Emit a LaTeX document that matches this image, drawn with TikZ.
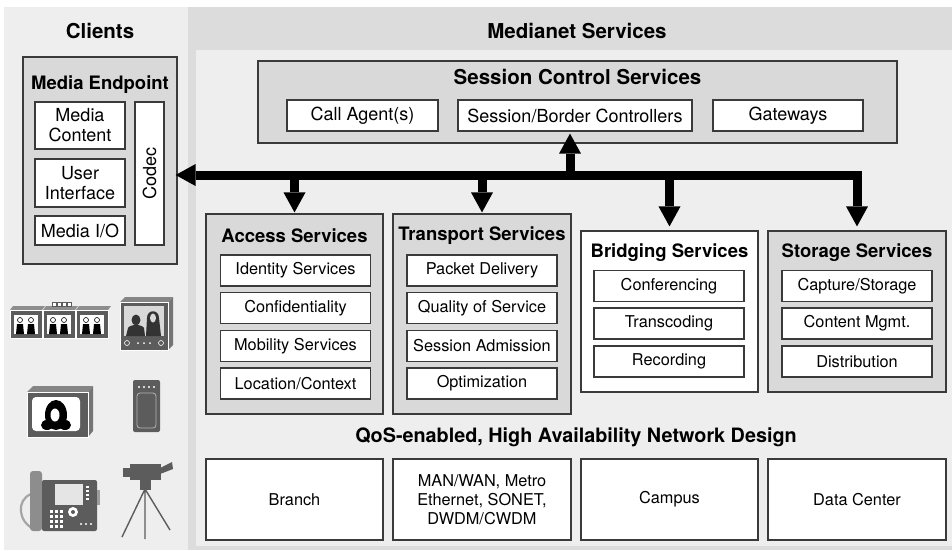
\documentclass[tikz,border=0pt]{standalone}
\usepackage{fontspec}
\setmainfont{TeX Gyre Heros}
\usetikzlibrary{positioning, arrows.meta}

\definecolor{panel}{HTML}{EEEEEE}
\definecolor{band}{HTML}{DCDCDC}
\definecolor{boxgray}{HTML}{D9D9D9}
\definecolor{edge}{HTML}{3A3A3A}
\definecolor{icon}{HTML}{5C5C5C}

\tikzset{
  head/.style={font=\fontsize{20.5}{24}\selectfont\bfseries},
  grouptitle/.style={font=\fontsize{18.5}{22}\selectfont\bfseries},
  group/.style={draw=edge, line width=1.2pt, fill=boxgray, inner sep=0pt},
  item/.style={draw=edge, line width=1.2pt, fill=white, minimum width=150pt, minimum height=31pt, inner sep=0pt, font=\fontsize{16.3}{19}\selectfont},
  client/.style={draw=edge, line width=1.2pt, fill=white, inner sep=0pt, align=center, font=\fontsize{18}{20}\selectfont},
  net/.style={draw=edge, line width=1.2pt, fill=white, inner sep=0pt, align=center, minimum height=81pt, font=\fontsize{16.3}{19}\selectfont},
  bus/.style={line width=9pt, -{Triangle[length=20pt,width=22pt,line width=0pt]}},
}

\begin{document}
\begin{tikzpicture}[x=1pt, y=-1pt]
  \useasboundingbox (0,0) rectangle (952,550);

  % panels
  \fill[panel] (4,7) rectangle (188,550);
  \fill[band] (188,7) rectangle (952,550);
  \fill[panel] (196,50) rectangle (952,546);

  \node[head] (clients) at (100,31) {Clients};
  \node[head] (medianet) at (577,31) {Medianet Services};

  % media endpoint
  \node[group, minimum width=154pt, minimum height=207pt] (ep) at (100,160.5) {};
  \node[grouptitle] (ept) at (100,85) {Media Endpoint};
  \node[client, minimum width=90pt, minimum height=47pt] (content) at (80,125.5) {Media\\Content};
  \node[client, minimum width=90pt, minimum height=48pt] (ui) at (80,183) {User\\Interface};
  \node[client, minimum width=90pt, minimum height=29pt] (mio) at (80,230.5) {Media I/O};
  \node[client, rotate=90, minimum width=143pt, minimum height=29pt] (codec) at (149.5,173.5) {Codec};

  % session control
  \node[group, minimum width=639pt, minimum height=82pt] (ctrl) at (577.5,102) {};
  \node[head] (ctrlt) at (577.5,77) {Session Control Services};
  \node[client, minimum width=151pt, minimum height=31pt] (agent) at (362.5,115.5) {Call Agent(s)};
  \node[client, minimum width=234pt, minimum height=31pt] (sbc) at (575,115.5) {Session/Border Controllers};
  \node[client, minimum width=150pt, minimum height=31pt] (gw) at (788,115.5) {Gateways};

  % access
  \node[group, minimum width=177pt, minimum height=200pt] (access) at (294.5,314) {};
  \node[grouptitle] (accesst) at (294.5,236) {Access Services};
  \node[item] (ident) at (295.5,270.5) {Identity Services};
  \node[item] (conf) at (295.5,308) {Confidentiality};
  \node[item] (mob) at (295.5,346) {Mobility Services};
  \node[item] (loc) at (295.5,383.5) {Location/Context};

  % transport
  \node[group, minimum width=178pt, minimum height=200pt] (transport) at (482,314) {};
  \node[grouptitle] (transportt) at (482,236) {Transport Services};
  \node[item] (packet) at (482,270.5) {Packet Delivery};
  \node[item] (qos) at (482,308) {Quality of Service};
  \node[item] (cac) at (482,346) {Session Admission};
  \node[item] (opt) at (482,383.5) {Optimization};

  % bridging
  \node[group, fill=white, minimum width=177pt, minimum height=161pt] (bridging) at (669.5,311.5) {};
  \node[grouptitle] (bridgingt) at (669.5,253) {Bridging Services};
  \node[item] (confer) at (669,286) {Conferencing};
  \node[item] (transc) at (669,323.5) {Transcoding};
  \node[item] (rec) at (669,361.5) {Recording};

  % storage
  \node[group, minimum width=178pt, minimum height=161pt] (storage) at (857,311.5) {};
  \node[grouptitle] (storaget) at (857,253) {Storage Services};
  \node[item] (capture) at (857,286) {Capture/Storage};
  \node[item] (mgmt) at (857,323.5) {Content Mgmt.};
  \node[item] (dist) at (857,361.5) {Distribution};

  % network design
  \node[font=\fontsize{19.8}{23}\selectfont\bfseries] (design) at (576,437) {QoS-enabled, High Availability Network Design};
  \node[net, minimum width=177pt] (branch) at (294.5,499.5) {Branch};
  \node[net, minimum width=178pt] (wan) at (482,499.5) {MAN/WAN, Metro\\Ethernet, SONET,\\DWDM/CWDM};
  \node[net, minimum width=177pt] (campus) at (669.5,499.5) {Campus};
  \node[net, minimum width=178pt] (dc) at (857,499.5) {Data Center};

  % service bus
  \coordinate (hub) at (570,175);
  \draw[bus, {Triangle[length=20pt,width=22pt,line width=0pt]}-{Triangle[length=20pt,width=22pt,line width=0pt]}, shorten <=-2pt, shorten >=4pt]
    (ep.east |- hub) -- (storage.north |- hub) -- (storage.north);
  \draw[bus, shorten >=-10pt] (hub) -- (hub |- ctrl.south);
  \draw[bus, shorten >=1pt] (access.north |- hub) -- (access.north);
  \draw[bus, shorten >=1pt] (transport.north |- hub) -- (transport.north);
  \draw[bus, shorten >=4pt] (bridging.north |- hub) -- (bridging.north);

  % client devices
  % telepresence screens
  \foreach \i in {0,1,2} {
    \begin{scope}[shift={({10+33*\i},0)}]
      \fill[icon!70] (0,310) -- (3,306) -- (35,306) -- (32,310) -- cycle;
      \fill[icon, draw=white, line width=0.6pt] (0,310) rectangle (32,338);
      \fill[white] (4,315) rectangle (28,334);
      \foreach \p in {10,21} {
        \fill[black] (\p-4,334) -- (\p-3,324) -- (\p+3,324) -- (\p+4,334) -- cycle;
        \draw[black, fill=white, line width=0.6pt] (\p,320) circle[radius=2.5pt];
      }
    \end{scope}
  }
  \foreach \c in {52,57,62,67}
    \draw[icon, fill=white, line width=0.6pt] (\c,302) rectangle (\c+4,306);

  % television
  \fill[icon!75] (120,302) -- (125,297) -- (173,297) -- (168,302) -- cycle;
  \fill[icon!85] (168,302) -- (173,297) -- (173,345) -- (168,350) -- cycle;
  \fill[icon, draw=white, line width=0.6pt] (120,302) rectangle (168,350);
  \fill[white!85!black] (124,306) rectangle (164,336);
  \fill[black!80] (126,336) -- (128,328) .. controls (130,324) and (142,324) .. (144,328) -- (145,336) -- cycle;
  \fill[black!80] (136,320) ellipse[x radius=4.5pt, y radius=5.5pt];
  \fill[black!80] (146,336) -- (147,318) .. controls (147,309) and (159,309) .. (159,318) -- (161,336) -- cycle;
  \fill[white!85!black] (153,318) ellipse[x radius=3pt, y radius=4.5pt];
  \draw[white, line width=0.6pt] (127,343) circle[radius=2.5pt] (161,343) circle[radius=2.5pt];
  \foreach \k in {138,144,150} \fill[white] (\k,343) circle[radius=1pt];

  % monitor
  \fill[icon!75] (27,392) -- (33,386) -- (93,386) -- (88,392) -- cycle;
  \fill[icon!85] (88,392) -- (93,386) -- (93,431) -- (88,437) -- cycle;
  \fill[icon, draw=white, line width=0.6pt] (27,392) rectangle (88,437);
  \fill[white, rounded corners=4pt] (32,397) rectangle (80,431);
  \fill[black] (56,415) ellipse[x radius=11pt, y radius=15pt];
  \fill[black] (47,425) ellipse[x radius=6pt, y radius=5pt] (65,425) ellipse[x radius=6pt, y radius=5pt];
  \fill[white] (55,415) ellipse[x radius=4.5pt, y radius=6.5pt];

  % handheld
  \fill[icon, rounded corners=2pt] (133,380) rectangle (160,432);
  \foreach \k in {139,144,149,154} \fill[white] (\k,387) circle[radius=1.1pt];
  \draw[white!55!icon, line width=0.8pt, rounded corners=3pt] (137,393) rectangle (156,428);

  % ip phone
  \draw[icon!55, line width=2.2pt] (31,494) .. controls (16,500) and (18,522) .. (34,529);
  \fill[icon!70, rounded corners=3pt] (30,471) rectangle (42,531);
  \fill[icon, rounded corners=2pt] (42,480) rectangle (97,531);
  \fill[icon!60] (97,490) rectangle (100,505);
  \fill[white!90!black] (55,484) rectangle (83,505);
  \foreach \k in {486,490,494,498} \fill[white] (86,\k) rectangle (89,\k+2);
  \foreach \r in {510,515,520,525}
    \foreach \q in {50,55,60} \fill[white] (\q,\r) rectangle (\q+3,\r+3);
  \fill[white] (73,512) circle[radius=5pt];
  \fill[icon] (73,512) circle[radius=2pt];
  \foreach \q in {81,86,91} \fill[white] (\q,524) circle[radius=1.2pt];

  % camera on tripod
  \draw[icon, line width=1.4pt] (145,489) -- (122,537) (145,489) -- (145,539) (145,489) -- (170,530);
  \fill[icon] (140,479) rectangle (151,490);
  \fill[icon] (123,468) rectangle (131,477);
  \fill[icon] (130,464) rectangle (161,480);
  \fill[icon] (160,468) -- (172,462) -- (173,469) -- (160,474) -- cycle;
\end{tikzpicture}
\end{document}
